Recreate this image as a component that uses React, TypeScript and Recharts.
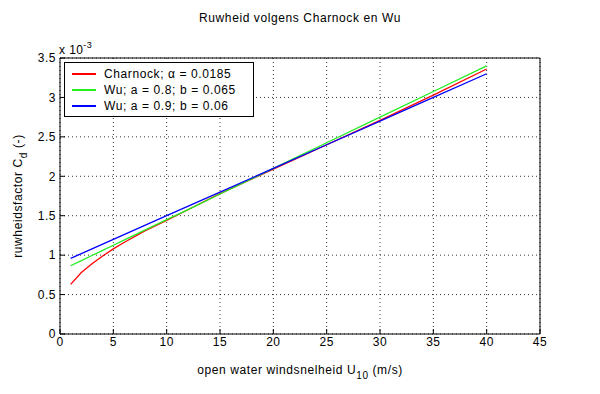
import React from 'react';
import { LineChart, Line, XAxis, YAxis, CartesianGrid, Legend, Label } from 'recharts';

// wind speed U10 (m/s)
const windSpeeds = [1, 2, 3, 4, 5, 6, 8, 10, 12.5, 15, 20, 25, 30, 35, 40];
// drag coefficient, units of 1e-3
const charnock = [0.63, 0.78, 0.89, 0.99, 1.08, 1.16, 1.31, 1.44, 1.61, 1.78, 2.09, 2.4, 2.71, 3.03, 3.36];
const wuA = [0.865, 0.93, 0.995, 1.06, 1.125, 1.19, 1.32, 1.45, 1.61, 1.775, 2.1, 2.425, 2.75, 3.075, 3.4];
const wuB = [0.96, 1.02, 1.08, 1.14, 1.2, 1.26, 1.38, 1.5, 1.65, 1.8, 2.1, 2.4, 2.7, 3.0, 3.3];

const xTicks = [0, 5, 10, 15, 20, 25, 30, 35, 40, 45];
const yTicks = [0, 0.5, 1, 1.5, 2, 2.5, 3, 3.5];

const series = [
  { key: 'charnock', name: 'Charnock; \u03b1 = 0.0185', color: '#ff0000' },
  { key: 'wuA', name: 'Wu; a = 0.8; b = 0.065', color: '#22ee22' },
  { key: 'wuB', name: 'Wu; a = 0.9; b = 0.06', color: '#0000ff' },
];

const data = windSpeeds.map((u, i) => ({ u, charnock: charnock[i], wuA: wuA[i], wuB: wuB[i] }));

const font = '"Liberation Sans", Arial, sans-serif';
const tickStyle = { fill: '#000', fontSize: 12, fontFamily: font, letterSpacing: 0.5 };

const LegendBox = () => (
  <div
    style={{
      border: '1px solid #000',
      background: '#fff',
      padding: '3px 6px 2px 7px',
      fontFamily: font,
      fontSize: 12,
      letterSpacing: 0.6,
      width: 175,
    }}
  >
    {series.map(s => (
      <div key={s.key} style={{ display: 'flex', alignItems: 'center', height: 16 }}>
        <span style={{ display: 'inline-block', width: 24, height: 0, borderTop: `2px solid ${s.color}`, marginRight: 8 }} />
        <span>{s.name}</span>
      </div>
    ))}
  </div>
);

export default function App() {
  return (
    <div style={{ position: 'absolute', left: 0, top: 0, width: 600, height: 394, background: '#fff' }}>
      <LineChart width={600} height={394} data={data} margin={{ top: 0, right: 0, bottom: 0, left: 0 }}>
        <CartesianGrid stroke="#000" strokeDasharray="1 3" strokeWidth={0.8} horizontalValues={yTicks} verticalValues={xTicks} />
        <XAxis
          dataKey="u"
          type="number"
          domain={[0, 45]}
          ticks={xTicks}
          height={60}
          stroke="#000"
          tickSize={-5}
          tickMargin={8}
          tick={tickStyle}
          interval={0}
        >
          <Label
            content={() => (
              <text x={300} y={374} textAnchor="middle" fontFamily={font} fontSize={12} letterSpacing={0.6} fill="#000">
                open water windsnelheid U
                <tspan fontSize={10} dy={5}>10</tspan>
                <tspan dy={-5}> (m/s)</tspan>
              </text>
            )}
          />
        </XAxis>
        <XAxis
          xAxisId="top"
          orientation="top"
          dataKey="u"
          type="number"
          domain={[0, 45]}
          ticks={xTicks}
          height={58}
          stroke="#000"
          tickSize={-5}
          tick={false}
        >
          <Label
            content={() => (
              <g>
                <text x={300} y={22} textAnchor="middle" fontFamily={font} fontSize={12} letterSpacing={0.6} fill="#000">
                  Ruwheid volgens Charnock en Wu
                </text>
                <text x={59} y={54} fontFamily={font} fontSize={12} letterSpacing={0.4} fill="#000">
                  x 10<tspan fontSize={9} dy={-6}>-3</tspan>
                </text>
              </g>
            )}
          />
        </XAxis>
        <YAxis
          type="number"
          domain={[0, 3.5]}
          ticks={yTicks}
          width={60}
          stroke="#000"
          tickSize={-5}
          tickMargin={9}
          tick={tickStyle}
          interval={0}
        >
          <Label
            content={() => (
              <text
                x={0}
                y={0}
                transform="translate(22 196) rotate(-90)"
                textAnchor="middle"
                fontFamily={font}
                fontSize={12}
                letterSpacing={0.6}
                fill="#000"
              >
                ruwheidsfactor C
                <tspan fontSize={10} dy={5}>d</tspan>
                <tspan dy={-5}> (-)</tspan>
              </text>
            )}
          />
        </YAxis>
        <YAxis
          yAxisId="right"
          orientation="right"
          type="number"
          domain={[0, 3.5]}
          ticks={yTicks}
          width={60}
          stroke="#000"
          tickSize={-5}
          tick={false}
        />
        {series.map(s => (
          <Line
            key={s.key}
            dataKey={s.key}
            name={s.name}
            type="linear"
            stroke={s.color}
            strokeWidth={1.3}
            dot={false}
            isAnimationActive={false}
          />
        ))}
        <Legend
          layout="vertical"
          align="center"
          verticalAlign="middle"
          content={LegendBox}
          wrapperStyle={{ left: 64, top: 62, width: 'auto', height: 'auto' }}
        />
      </LineChart>
    </div>
  );
}
